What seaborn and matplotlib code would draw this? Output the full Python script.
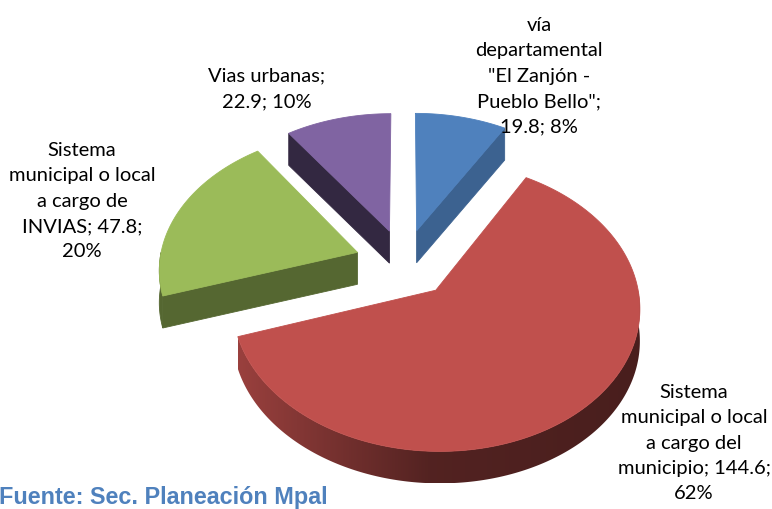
import numpy as np
import matplotlib
matplotlib.use("Agg")
import matplotlib.pyplot as plt
from matplotlib.patches import Polygon
from matplotlib.colors import to_rgb
import seaborn as sns

# Road network length by type (km)
categories = [
    'vía\ndepartamental\n"El Zanjón -\nPueblo Bello"',
    "Sistema\nmunicipal o local\na cargo del\nmunicipio",
    "Sistema\nmunicipal o local\na cargo de\nINVIAS",
    "Vias urbanas",
]
values = [19.8, 144.6, 47.8, 22.9]
value_on_new_line = [True, False, False, True]
colors = ["#4F81BD", "#C0504D", "#9BBB59", "#8064A2"]
side_shade = [0.76, 0.55, 0.55, 0.40]
wall_gradient = [False, True, False, False]
explode = [0.25, 0.25, 0.25, 0.25]
label_pos = [(539, 76), (694, 443), (82, 201), (267, 89)]
source_text = "Fuente: Sec. Planeación Mpal"

sns.set_theme(style="white")
plt.rcParams["font.family"] = ["Lato", "DejaVu Sans"]

# 3-D pie projection settings (pixel space)
CX, CY = 404, 263
RX, RY = 198, 137
PERSP = 0.11
THICK = 32


def project(X, Y, z):
    X = np.atleast_1d(np.asarray(X, dtype=float))
    Y = np.atleast_1d(np.asarray(Y, dtype=float))
    z = np.broadcast_to(np.asarray(z, dtype=float), X.shape)
    d = 1.0 / (1.0 + PERSP * Y)
    sx = CX + RX * X * d
    sy = CY - RY * Y * d + (1 - z) * THICK
    return np.column_stack([sx, sy])


def shade(c, f):
    r, g, b = to_rgb(c)
    return (r * f, g * f, b * f)


fig = plt.figure(figsize=(7.72, 5.09), dpi=100)
ax = fig.add_axes([0, 0, 1, 1])

total = float(np.sum(values))
cum = np.concatenate([[0], np.cumsum(values)]) / total * 360.0

slices = []
for i, v in enumerate(values):
    t0 = np.radians(90 - cum[i])       # clockwise from 12 o'clock
    t1 = np.radians(90 - cum[i + 1])
    tm = 0.5 * (t0 + t1)
    ox, oy = explode[i] * np.cos(tm), explode[i] * np.sin(tm)
    slices.append((i, t0, t1, ox, oy))

# paint far slices first
slices.sort(key=lambda s: -s[4])


def add_poly(pts, col, lw=0.6):
    p = Polygon(pts, closed=True, facecolor=col, edgecolor=col,
                linewidth=lw, antialiased=True)
    ax.add_patch(p)
    return p


for i, t0, t1, ox, oy in slices:
    base = colors[i]
    side = shade(base, side_shade[i])
    # radial faces that turn towards the viewer
    for te, sign in ((t0, 1), (t1, -1)):
        ny = sign * np.cos(te)
        if ny < -1e-6:
            rx, ry = ox + np.cos(te), oy + np.sin(te)
            pts = np.vstack([project([ox, rx], [oy, ry], 1),
                             project([rx, ox], [ry, oy], 0)])
            add_poly(pts, side)
    # outer wall: front half of the rim only
    th = np.linspace(t1, t0, 600)
    th = th[np.sin(th) < 0]
    if th.size > 1:
        xs, ys = ox + np.cos(th), oy + np.sin(th)
        pts = np.vstack([project(xs, ys, 1), project(xs[::-1], ys[::-1], 0)])
        if wall_gradient[i]:
            patch = add_poly(pts, "none", lw=0)
            x0, x1 = pts[:, 0].min(), pts[:, 0].max()
            y0, y1 = pts[:, 1].min(), pts[:, 1].max()
            cols = np.linspace(x0, x1, 400)
            f = np.interp(cols, [x0, x0 + 0.48 * (x1 - x0), x1], [0.80, 0.43, 0.38])
            img = np.array([shade(base, k) for k in f])[None, :, :]
            im = ax.imshow(img, extent=(x0, x1, y1, y0), aspect="auto",
                           interpolation="bilinear", zorder=1)
            im.set_clip_path(patch)
        else:
            add_poly(pts, side)
    # top face
    th = np.linspace(t1, t0, 300)
    xs = np.concatenate([[ox], ox + np.cos(th)])
    ys = np.concatenate([[oy], oy + np.sin(th)])
    add_poly(project(xs, ys, 1), base).set_zorder(2)

ax.set_xlim(0, 772)
ax.set_ylim(509, 0)
ax.axis("off")

# data labels
for i, (name, v) in enumerate(zip(categories, values)):
    pct = int(round(v / total * 100))
    if value_on_new_line[i]:
        txt = f"{name};\n{v:g}; {pct}%"
    else:
        txt = f"{name}; {v:g};\n{pct}%"
    x, y = label_pos[i]
    ax.text(x, y, txt, ha="center", va="center", multialignment="center",
            fontsize=14.5, color="black", linespacing=1.6, zorder=5)

ax.text(-1, 504, source_text, ha="left", va="baseline", fontsize=16.8,
        fontweight="bold", color="#4F81BD",
        family=["Liberation Sans", "DejaVu Sans"], zorder=5)

fig.savefig("out.png", dpi=100)
